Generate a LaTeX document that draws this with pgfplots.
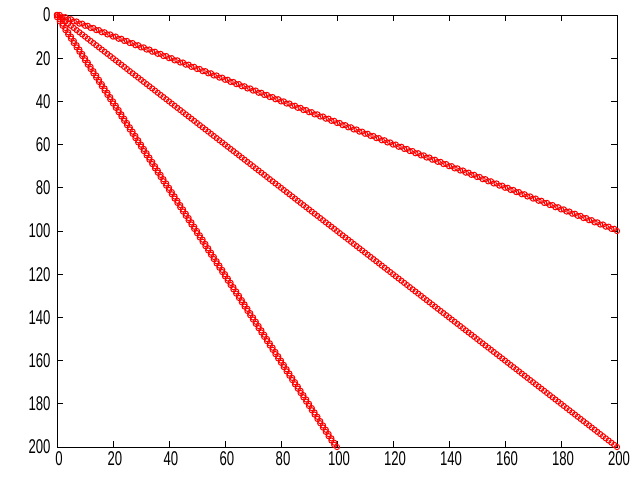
\documentclass[border=0pt]{standalone}
\usepackage{fontspec}
\setmainfont{Liberation Sans}[FakeStretch=0.66]
\usepackage{pgfplots}
\pgfplotsset{compat=1.18}
\begin{document}
\begin{tikzpicture}
\useasboundingbox (0,0) rectangle (640bp,480bp);
\begin{axis}[
  at={(57bp,33bp)}, anchor=south west,
  scale only axis, width=560bp, height=432bp,
  xmin=0, xmax=200, ymin=0, ymax=200,
  y dir=reverse,
  xtick={0,20,...,200}, ytick={0,20,...,200},
  tick align=inside, major tick length=6bp,
  axis line style={line width=1bp, black},
  tick style={line width=0.8bp, black},
  /pgf/number format/assume math mode=true,
  tick label style={font=\fontsize{20}{20}\selectfont},
  xticklabel style={yshift=-1bp, xshift=2bp},
  yticklabel style={xshift=-3bp},
  spy/.style={only marks, mark=o, mark size=2.6bp, draw=red, line width=1bp, mark options={draw=red, fill=none}},
]
\addplot[spy] coordinates {
(0,0)(1,1)(2,2)(3,3)(4,4)(5,5)(6,6)(7,7)(8,8)(9,9)
(10,10)(11,11)(12,12)(13,13)(14,14)(15,15)(16,16)(17,17)(18,18)(19,19)
(20,20)(21,21)(22,22)(23,23)(24,24)(25,25)(26,26)(27,27)(28,28)(29,29)
(30,30)(31,31)(32,32)(33,33)(34,34)(35,35)(36,36)(37,37)(38,38)(39,39)
(40,40)(41,41)(42,42)(43,43)(44,44)(45,45)(46,46)(47,47)(48,48)(49,49)
(50,50)(51,51)(52,52)(53,53)(54,54)(55,55)(56,56)(57,57)(58,58)(59,59)
(60,60)(61,61)(62,62)(63,63)(64,64)(65,65)(66,66)(67,67)(68,68)(69,69)
(70,70)(71,71)(72,72)(73,73)(74,74)(75,75)(76,76)(77,77)(78,78)(79,79)
(80,80)(81,81)(82,82)(83,83)(84,84)(85,85)(86,86)(87,87)(88,88)(89,89)
(90,90)(91,91)(92,92)(93,93)(94,94)(95,95)(96,96)(97,97)(98,98)(99,99)
(100,100)(101,101)(102,102)(103,103)(104,104)(105,105)(106,106)(107,107)(108,108)(109,109)
(110,110)(111,111)(112,112)(113,113)(114,114)(115,115)(116,116)(117,117)(118,118)(119,119)
(120,120)(121,121)(122,122)(123,123)(124,124)(125,125)(126,126)(127,127)(128,128)(129,129)
(130,130)(131,131)(132,132)(133,133)(134,134)(135,135)(136,136)(137,137)(138,138)(139,139)
(140,140)(141,141)(142,142)(143,143)(144,144)(145,145)(146,146)(147,147)(148,148)(149,149)
(150,150)(151,151)(152,152)(153,153)(154,154)(155,155)(156,156)(157,157)(158,158)(159,159)
(160,160)(161,161)(162,162)(163,163)(164,164)(165,165)(166,166)(167,167)(168,168)(169,169)
(170,170)(171,171)(172,172)(173,173)(174,174)(175,175)(176,176)(177,177)(178,178)(179,179)
(180,180)(181,181)(182,182)(183,183)(184,184)(185,185)(186,186)(187,187)(188,188)(189,189)
(190,190)(191,191)(192,192)(193,193)(194,194)(195,195)(196,196)(197,197)(198,198)(199,199)
(200,200)
};
\addplot[spy] coordinates {
(0,0)(0,1)(1,2)(1,3)(2,4)(2,5)(3,6)(3,7)(4,8)(4,9)
(5,10)(5,11)(6,12)(6,13)(7,14)(7,15)(8,16)(8,17)(9,18)(9,19)
(10,20)(10,21)(11,22)(11,23)(12,24)(12,25)(13,26)(13,27)(14,28)(14,29)
(15,30)(15,31)(16,32)(16,33)(17,34)(17,35)(18,36)(18,37)(19,38)(19,39)
(20,40)(20,41)(21,42)(21,43)(22,44)(22,45)(23,46)(23,47)(24,48)(24,49)
(25,50)(25,51)(26,52)(26,53)(27,54)(27,55)(28,56)(28,57)(29,58)(29,59)
(30,60)(30,61)(31,62)(31,63)(32,64)(32,65)(33,66)(33,67)(34,68)(34,69)
(35,70)(35,71)(36,72)(36,73)(37,74)(37,75)(38,76)(38,77)(39,78)(39,79)
(40,80)(40,81)(41,82)(41,83)(42,84)(42,85)(43,86)(43,87)(44,88)(44,89)
(45,90)(45,91)(46,92)(46,93)(47,94)(47,95)(48,96)(48,97)(49,98)(49,99)
(50,100)(50,101)(51,102)(51,103)(52,104)(52,105)(53,106)(53,107)(54,108)(54,109)
(55,110)(55,111)(56,112)(56,113)(57,114)(57,115)(58,116)(58,117)(59,118)(59,119)
(60,120)(60,121)(61,122)(61,123)(62,124)(62,125)(63,126)(63,127)(64,128)(64,129)
(65,130)(65,131)(66,132)(66,133)(67,134)(67,135)(68,136)(68,137)(69,138)(69,139)
(70,140)(70,141)(71,142)(71,143)(72,144)(72,145)(73,146)(73,147)(74,148)(74,149)
(75,150)(75,151)(76,152)(76,153)(77,154)(77,155)(78,156)(78,157)(79,158)(79,159)
(80,160)(80,161)(81,162)(81,163)(82,164)(82,165)(83,166)(83,167)(84,168)(84,169)
(85,170)(85,171)(86,172)(86,173)(87,174)(87,175)(88,176)(88,177)(89,178)(89,179)
(90,180)(90,181)(91,182)(91,183)(92,184)(92,185)(93,186)(93,187)(94,188)(94,189)
(95,190)(95,191)(96,192)(96,193)(97,194)(97,195)(98,196)(98,197)(99,198)(99,199)
(100,200)
};
\addplot[spy] coordinates {
(0,0)(1,0)(2,1)(3,1)(4,2)(5,2)(6,3)(7,3)(8,4)(9,4)
(10,5)(11,5)(12,6)(13,6)(14,7)(15,7)(16,8)(17,8)(18,9)(19,9)
(20,10)(21,10)(22,11)(23,11)(24,12)(25,12)(26,13)(27,13)(28,14)(29,14)
(30,15)(31,15)(32,16)(33,16)(34,17)(35,17)(36,18)(37,18)(38,19)(39,19)
(40,20)(41,20)(42,21)(43,21)(44,22)(45,22)(46,23)(47,23)(48,24)(49,24)
(50,25)(51,25)(52,26)(53,26)(54,27)(55,27)(56,28)(57,28)(58,29)(59,29)
(60,30)(61,30)(62,31)(63,31)(64,32)(65,32)(66,33)(67,33)(68,34)(69,34)
(70,35)(71,35)(72,36)(73,36)(74,37)(75,37)(76,38)(77,38)(78,39)(79,39)
(80,40)(81,40)(82,41)(83,41)(84,42)(85,42)(86,43)(87,43)(88,44)(89,44)
(90,45)(91,45)(92,46)(93,46)(94,47)(95,47)(96,48)(97,48)(98,49)(99,49)
(100,50)(101,50)(102,51)(103,51)(104,52)(105,52)(106,53)(107,53)(108,54)(109,54)
(110,55)(111,55)(112,56)(113,56)(114,57)(115,57)(116,58)(117,58)(118,59)(119,59)
(120,60)(121,60)(122,61)(123,61)(124,62)(125,62)(126,63)(127,63)(128,64)(129,64)
(130,65)(131,65)(132,66)(133,66)(134,67)(135,67)(136,68)(137,68)(138,69)(139,69)
(140,70)(141,70)(142,71)(143,71)(144,72)(145,72)(146,73)(147,73)(148,74)(149,74)
(150,75)(151,75)(152,76)(153,76)(154,77)(155,77)(156,78)(157,78)(158,79)(159,79)
(160,80)(161,80)(162,81)(163,81)(164,82)(165,82)(166,83)(167,83)(168,84)(169,84)
(170,85)(171,85)(172,86)(173,86)(174,87)(175,87)(176,88)(177,88)(178,89)(179,89)
(180,90)(181,90)(182,91)(183,91)(184,92)(185,92)(186,93)(187,93)(188,94)(189,94)
(190,95)(191,95)(192,96)(193,96)(194,97)(195,97)(196,98)(197,98)(198,99)(199,99)
(200,100)
};
\end{axis}
\end{tikzpicture}
\end{document}
